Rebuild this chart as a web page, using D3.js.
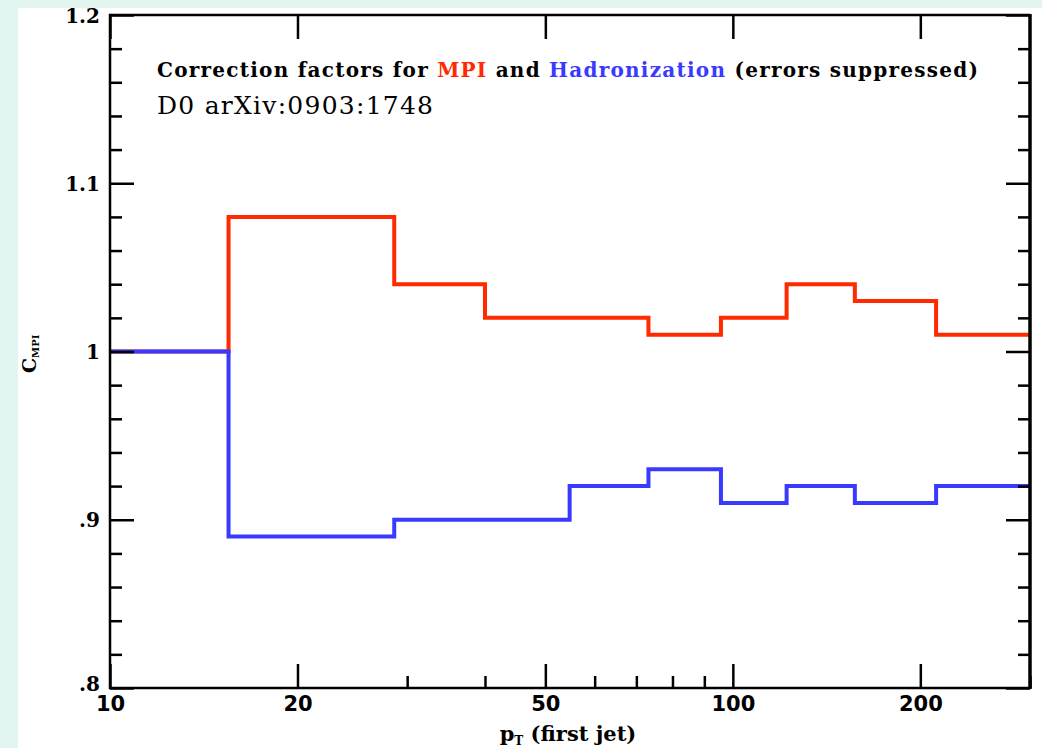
<!DOCTYPE html>
<html>
<head>
<meta charset="utf-8">
<script src="https://cdn.jsdelivr.net/npm/d3@7"></script>
<style>
  html, body { margin: 0; padding: 0; background: #e2f5f1; }
  svg { display: block; }
</style>
</head>
<body>
<div id="chart"></div>
<script>
// bin edges in pT (GeV), log axis
const binEdges = [10, 15.5, 28.6, 40, 54.7, 73.2, 95.7, 122, 157, 212, 300];
// correction factor per bin
const mpiFactors = [1.00, 1.08, 1.04, 1.02, 1.02, 1.01, 1.02, 1.04, 1.03, 1.01];
const hadFactors = [1.00, 0.89, 0.90, 0.90, 0.92, 0.93, 0.91, 0.92, 0.91, 0.92];

const xMajor = [10, 20, 50, 100, 200];
const xMinor = [30, 40, 60, 70, 80, 90, 300];
const yMajor = [0.8, 0.9, 1.0, 1.1, 1.2];
const yMinor = [0.82, 0.84, 0.86, 0.88, 0.92, 0.94, 0.96, 0.98,
                1.02, 1.04, 1.06, 1.08, 1.12, 1.14, 1.16, 1.18];
const yLabels = ['.8', '.9', '1', '1.1', '1.2'];

const W = 1042, H = 748;
const PLOT = { left: 110, right: 1030, top: 15, bottom: 688 };

const svg = d3.select('#chart').append('svg')
  .attr('width', W)
  .attr('height', H);

// white page area
svg.append('rect')
  .attr('x', 18).attr('y', 8)
  .attr('width', W - 18).attr('height', H - 8)
  .attr('fill', '#fff');

const x = d3.scaleLog().domain([10, 300]).range([PLOT.left, PLOT.right]);
const y = d3.scaleLinear().domain([0.8, 1.2]).range([PLOT.bottom, PLOT.top]);

// histogram step lines
function stepPoints(vals) {
  const pts = [];
  vals.forEach((v, i) => {
    pts.push([binEdges[i], v]);
    pts.push([binEdges[i + 1], v]);
  });
  return pts;
}
const line = d3.line().x(d => x(d[0])).y(d => y(d[1]));

svg.append('path')
  .attr('d', line(stepPoints(mpiFactors)))
  .attr('fill', 'none')
  .attr('stroke', '#ff2a00')
  .attr('stroke-width', 4);

svg.append('path')
  .attr('d', line(stepPoints(hadFactors)))
  .attr('fill', 'none')
  .attr('stroke', '#3a3aff')
  .attr('stroke-width', 4);

// axes: ticks pointing inward
function styleAxis(g, showLabels) {
  g.select('.domain').remove();
  g.selectAll('.tick line').attr('stroke', '#000').attr('stroke-width', 2.5);
  if (!showLabels) g.selectAll('.tick text').remove();
}

const xFmt = d3.format('d');
const yFmt = d => yLabels[yMajor.indexOf(d)] || '';

const axes = [
  { gen: d3.axisBottom, sc: x, vals: xMajor, size: 24, at: `translate(0,${PLOT.bottom})`, labels: 'x' },
  { gen: d3.axisBottom, sc: x, vals: xMinor, size: 12, at: `translate(0,${PLOT.bottom})` },
  { gen: d3.axisTop, sc: x, vals: xMajor, size: 24, at: `translate(0,${PLOT.top})` },
  { gen: d3.axisLeft, sc: y, vals: yMajor, size: 24, at: `translate(${PLOT.left},0)`, labels: 'y' },
  { gen: d3.axisLeft, sc: y, vals: yMinor, size: 12, at: `translate(${PLOT.left},0)` },
  { gen: d3.axisRight, sc: y, vals: yMajor, size: 24, at: `translate(${PLOT.right},0)` },
  { gen: d3.axisRight, sc: y, vals: yMinor, size: 12, at: `translate(${PLOT.right},0)` },
];

axes.forEach(a => {
  const ax = a.gen(a.sc).tickValues(a.vals).tickSize(-a.size)
    .tickPadding(a.labels === 'y' ? 10 : 7)
    .tickFormat(a.sc === y ? yFmt : xFmt);
  const g = svg.append('g').attr('transform', a.at).call(ax);
  styleAxis(g, !!a.labels);
  if (a.labels === 'x') {
    g.selectAll('.tick text')
      .attr('font-family', '"DejaVu Sans", sans-serif')
      .attr('font-weight', 'bold')
      .attr('font-size', 21)
      .attr('fill', '#000')
      .attr('dy', '0.78em');
  } else if (a.labels === 'y') {
    g.selectAll('.tick text')
      .attr('font-family', '"DejaVu Serif", serif')
      .attr('font-weight', 'bold')
      .attr('font-size', 20)
      .attr('fill', '#000')
      .attr('dy', d => d === 0.8 ? '0.1em' : '0.35em');
  }
});

// frame
svg.append('path')
  .attr('d', `M${PLOT.right},${PLOT.top}H${PLOT.left}V${PLOT.bottom}H${PLOT.right}`)
  .attr('fill', 'none').attr('stroke', '#000').attr('stroke-width', 2.5);
svg.append('line')
  .attr('x1', PLOT.right).attr('x2', PLOT.right)
  .attr('y1', PLOT.top - 1).attr('y2', PLOT.bottom + 1)
  .attr('stroke', '#000').attr('stroke-width', 3.5);

// annotations
const t1 = svg.append('text')
  .attr('x', 157).attr('y', 77)
  .attr('font-family', '"DejaVu Serif", serif')
  .attr('font-weight', 'bold')
  .attr('font-size', 20)
  .attr('textLength', 821)
  .attr('lengthAdjust', 'spacing');
t1.append('tspan').attr('fill', '#000').text('Correction factors for ');
t1.append('tspan').attr('fill', '#ff2a00').text('MPI');
t1.append('tspan').attr('fill', '#000').text(' and ');
t1.append('tspan').attr('fill', '#3a3aff').text('Hadronization');
t1.append('tspan').attr('fill', '#000').text(' (errors suppressed)');

svg.append('text')
  .attr('x', 157).attr('y', 114)
  .attr('font-family', '"DejaVu Serif", serif')
  .attr('font-size', 25)
  .attr('fill', '#000')
  .attr('textLength', 276)
  .attr('lengthAdjust', 'spacing')
  .text('D0  arXiv:0903:1748');

// x axis title
const xt = svg.append('text')
  .attr('x', 568).attr('y', 741)
  .attr('text-anchor', 'middle')
  .attr('font-family', '"DejaVu Serif", serif')
  .attr('font-weight', 'bold')
  .attr('font-size', 21)
  .attr('fill', '#000');
xt.append('tspan').text('p');
xt.append('tspan').attr('font-size', 12).attr('dy', 4).text('T');
xt.append('tspan').attr('dy', -4).text(' (first jet)');

// y axis title
const yt = svg.append('text')
  .attr('transform', 'translate(36,373) rotate(-90)')
  .attr('font-family', '"DejaVu Serif", serif')
  .attr('font-weight', 'bold')
  .attr('font-size', 19)
  .attr('fill', '#000');
yt.append('tspan').text('C');
yt.append('tspan').attr('font-size', 10).attr('dy', 3).text('MPI');
</script>
</body>
</html>
